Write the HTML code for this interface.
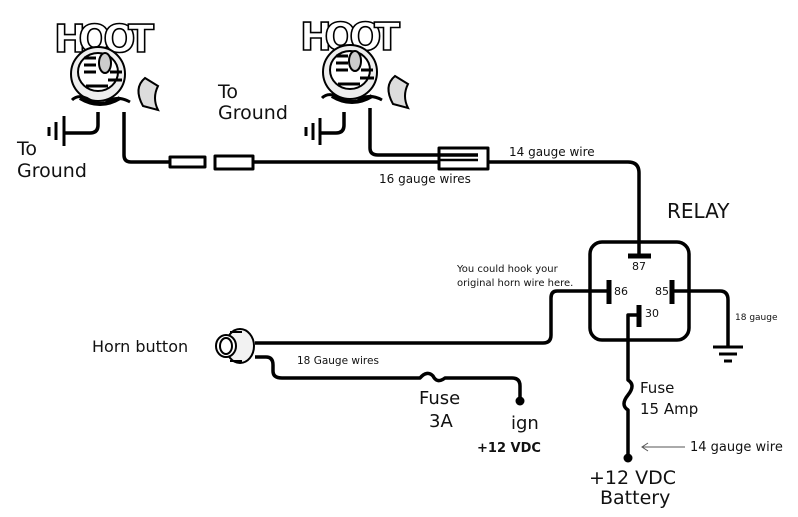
<!DOCTYPE html>
<html><head><style>
html,body{margin:0;padding:0;background:#fff}
svg{display:block}
text{font-family:"DejaVu Sans","Liberation Sans",sans-serif;fill:#111}
</style></head><body>
<svg width="798" height="517" viewBox="0 0 798 517" xmlns="http://www.w3.org/2000/svg">
<g fill="none" stroke="#000" stroke-width="3.5" stroke-linejoin="round">
<path d="M124,112 V155 Q124,162 131,162 H170"/>
<path d="M98,112 V125 Q98,133 90,133 H64"/>
<rect x="170" y="157" width="35" height="10" stroke-width="3"/>
<rect x="215" y="156" width="38" height="13" stroke-width="3"/>
<path d="M253,162 H440"/>
<path d="M370,108 V148 Q370,155 378,155 H478"/>
<path d="M344,112 V125 Q344,133 336,133 H320"/>
<path d="M440,160 H478" stroke-width="2.5"/>
<rect x="439" y="148" width="49" height="21" stroke-width="3"/>
<path d="M488,162 H628 Q639,162 639,173 V256"/>
<rect x="590" y="242" width="99" height="98" rx="12" stroke-width="3.5"/>
<path d="M628,256 H651" stroke-width="5"/>
<path d="M609,280 V304" stroke-width="5"/>
<path d="M672,280 V304" stroke-width="5"/>
<path d="M639,305 V327" stroke-width="5"/>
<path d="M609,291 H557 Q551,291 551,298 V335 Q551,343 543,343 H255"/>
<path d="M672,291 H720 Q728,291 728,300 V346"/>
<path d="M713,347 H743 M719,354 H737 M724,361 H732" stroke-width="3"/>
<path d="M639,315 H628 V380 Q636,385 628,395 Q620,405 628,410 V457"/>
<path d="M255,357 H266 Q273,357 273,365 V371 Q273,378 282,378 H420 Q427,370 433,376 Q437,384 445,378 H512 Q520,378 520,386 V400"/>
</g>
<g stroke="#000" stroke-width="3">
<path d="M64,116 V146 M56,122 V140 M49,127 V136"/>
<path d="M320,118 V145 M313,123 V140 M306,127 V136"/>
</g>
<circle cx="520" cy="401" r="4.5" fill="#000"/>
<circle cx="628" cy="458" r="4.5" fill="#000"/>
<!-- horn icons -->
<g fill="none" stroke="#000" stroke-width="2">
<text x="54" y="52" font-size="38" font-weight="bold" textLength="100" style="fill:#fff;stroke:#000;stroke-width:1.6" font-family="Liberation Serif">HOOT</text>
<path d="M145,78 q-12,10 -2,28 l15,4 q-6,-12 0,-24 z" fill="#ddd"/>
<ellipse cx="98" cy="74" rx="27" ry="27" fill="#eee"/>
<ellipse cx="98" cy="72" rx="20" ry="19" fill="#fff"/>
<ellipse cx="105" cy="63" rx="6" ry="10" fill="#ccc"/>
<path d="M84,58 h12 M84,65 h12 M84,72 h12 M110,72 h12 M108,80 h14 M86,86 h22" stroke-width="3"/>
<path d="M72,100 q8,-8 22,3 M104,104 q12,-10 26,-2" stroke-width="3"/>
<path d="M80,98 q20,12 40,0" stroke-width="4"/>
<text x="300" y="50" font-size="38" font-weight="bold" textLength="100" style="fill:#fff;stroke:#000;stroke-width:1.6" font-family="Liberation Serif">HOOT</text>
<path d="M395,76 q-12,10 -2,28 l15,4 q-6,-12 0,-24 z" fill="#ddd"/>
<ellipse cx="350" cy="72" rx="27" ry="27" fill="#eee"/>
<ellipse cx="350" cy="70" rx="20" ry="19" fill="#fff"/>
<ellipse cx="355" cy="61" rx="6" ry="10" fill="#ccc"/>
<path d="M336,56 h12 M336,63 h12 M336,70 h12 M361,70 h12 M360,78 h14 M338,84 h22" stroke-width="3"/>
<path d="M322,98 q8,-8 22,3 M356,102 q12,-10 26,-2" stroke-width="3"/>
<path d="M332,96 q20,12 40,0" stroke-width="4"/>
<!-- horn button -->
<ellipse cx="240" cy="346" rx="14" ry="17" fill="#f2f2f2"/>
<ellipse cx="226" cy="346" rx="10" ry="11" fill="#fff"/>
<ellipse cx="226" cy="346" rx="6" ry="8"/>
<path d="M230,332 h12 M230,361 h12"/>
</g>
<text x="17" y="155" font-size="19">To</text>
<text x="17" y="177" font-size="19">Ground</text>
<text x="218" y="98" font-size="19">To</text>
<text x="218" y="119" font-size="19">Ground</text>
<text x="379" y="183" font-size="12">16 gauge wires</text>
<text x="509" y="156" font-size="12">14 gauge wire</text>
<text x="667" y="218" font-size="20">RELAY</text>
<text x="632" y="270" font-size="11">87</text>
<text x="614" y="295" font-size="11">86</text>
<text x="655" y="295" font-size="11">85</text>
<text x="645" y="317" font-size="11">30</text>
<text x="457" y="272" font-size="10">You could hook your</text>
<text x="457" y="286" font-size="10">original horn wire here.</text>
<text x="735" y="320" font-size="9">18 gauge</text>
<text x="92" y="352" font-size="16">Horn button</text>
<text x="297" y="364" font-size="10.5">18 Gauge wires</text>
<text x="419" y="404" font-size="18" font-family="Liberation Sans">Fuse</text>
<text x="429" y="427" font-size="18" font-family="Liberation Sans">3A</text>
<text x="511" y="429" font-size="18" font-family="Liberation Sans">ign</text>
<text x="477" y="452" font-size="13" font-weight="bold">+12 VDC</text>
<text x="640" y="393" font-size="15">Fuse</text>
<text x="640" y="414" font-size="15">15 Amp</text>
<path d="M642,447 H685" stroke="#555" stroke-width="1"/>
<path d="M648,443 L642,447 L648,451" fill="none" stroke="#555" stroke-width="1"/>
<text x="690" y="451" font-size="13">14 gauge wire</text>
<text x="589" y="484" font-size="19" font-family="Liberation Sans">+12 VDC</text>
<text x="600" y="504" font-size="19" font-family="Liberation Sans">Battery</text>
</svg>
</body></html>
